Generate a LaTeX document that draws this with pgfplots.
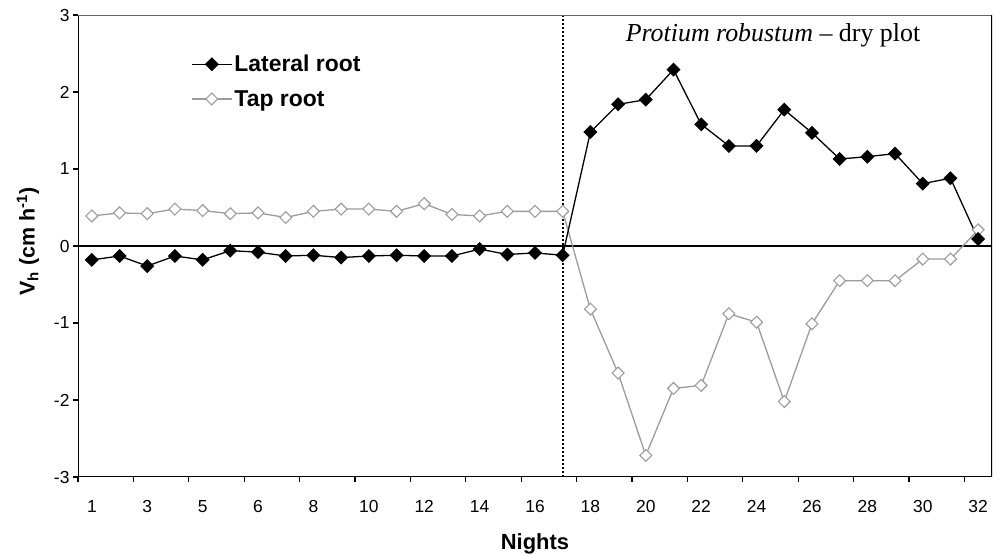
\documentclass[border=0pt]{standalone}
\usepackage{fontspec}
\setmainfont{Liberation Sans}
\newfontfamily\titlefont{Liberation Serif}
\usepackage{pgfplots}
\usepackage{pgfplotstable}
\pgfplotsset{compat=1.18}

\definecolor{tapgray}{HTML}{9C9C9C}

% Night index (category position), lateral and tap root heat velocity
\pgfplotstableread{
k  lateral  tap
0  -0.18   0.39
1  -0.13   0.43
2  -0.26   0.42
3  -0.13   0.48
4  -0.18   0.46
5  -0.06   0.42
6  -0.08   0.43
7  -0.13   0.37
8  -0.12   0.45
9  -0.15   0.48
10 -0.13   0.48
11 -0.12   0.45
12 -0.13   0.55
13 -0.13   0.41
14 -0.04   0.39
15 -0.11   0.45
16 -0.09   0.45
17 -0.12   0.45
18  1.48  -0.82
19  1.84  -1.65
20  1.90  -2.72
21  2.29  -1.85
22  1.58  -1.81
23  1.30  -0.88
24  1.30  -0.99
25  1.77  -2.02
26  1.47  -1.01
27  1.13  -0.45
28  1.16  -0.45
29  1.20  -0.45
30  0.81  -0.17
31  0.88  -0.17
32  0.09   0.21
}\nightdata

\begin{document}
\begin{tikzpicture}
\useasboundingbox (0,0) rectangle (1007bp,555bp);
\begin{axis}[
  at={(78bp,78bp)}, anchor=south west,
  scale only axis, width=914bp, height=462bp,
  xmin=-0.5, xmax=32.5, ymin=-3, ymax=3,
  axis line style={draw=none},
  xtick pos=bottom, ytick pos=left,
  tick align=outside, major tick length=5bp,
  tick style={black, line width=1.2bp},
  % tick marks between every second night
  xtick={-0.5,1.5,...,31.5},
  xticklabels={},
  % labels centred on the nights
  extra x ticks={0,2,...,32},
  extra x tick labels={1,3,5,6,8,10,12,14,16,18,20,22,24,26,28,30,32},
  extra x tick style={major tick length=0pt},
  x tick label style={anchor=base, yshift=-35.5bp},
  ytick={-3,-2,...,3},
  yticklabels={-3,-2,-1,0,1,2,3},
  y tick label style={anchor=east},
  ticklabel style={font=\fontsize{17.5}{20}\selectfont},
  xlabel={Nights},
  xlabel style={at={(axis description cs:0.5,0)}, anchor=base, yshift=-72bp,
    font=\fontsize{22}{26}\selectfont\bfseries},
  ylabel={V\textsubscript{h} (cm h\textsuperscript{-1})},
  ylabel style={at={([xshift=-50bp, yshift=4.5bp]axis description cs:0,0.5)},
    anchor=center, font=\fontsize{21.5}{26}\selectfont\bfseries},
  legend style={draw=none, fill=none, at={(axis description cs:0.1236,1)},
    anchor=north west, yshift=-38bp, inner sep=0pt, row sep=13bp,
    font=\fontsize{23}{27}\selectfont\bfseries, cells={anchor=west}},
  legend image code/.code={\draw[mark repeat=2, mark phase=2]
    plot coordinates {(0bp,0bp) (20bp,0bp) (40bp,0bp)};},
  reverse legend,
]
% zero line and the dotted divider
\addplot[black, line width=1.2bp, forget plot] coordinates {(-0.5,0) (32.5,0)};
\addplot[black, line width=2bp, dash pattern=on 2bp off 2bp, forget plot]
  coordinates {(17,-3) (17,3)};

\addplot[tapgray, line width=1.3bp, mark=square*, mark size=4.2bp,
  mark options={rotate=45, fill=white, draw=tapgray, line width=1.1bp, solid}]
  table[x=k, y=tap] {\nightdata};
\addlegendentry{Tap root}

\addplot[black, line width=1.3bp, mark=square*, mark size=4.3bp,
  mark options={rotate=45, fill=black, solid}]
  table[x=k, y=lateral] {\nightdata};
\addlegendentry{Lateral root}

% frame
\draw[line width=1.3bp] (rel axis cs:0,0) -- (rel axis cs:0,1);
\draw[line width=1.3bp] (rel axis cs:0,0) -- (rel axis cs:1,0);
\draw[line width=1.2bp, black!60] (rel axis cs:0,1) -- (rel axis cs:1,1);
\draw[line width=2.6bp] (rel axis cs:1,0) -- (rel axis cs:1,1);

\node[anchor=base, font=\titlefont\fontsize{26}{30}\selectfont]
  at (rel axis cs:0.7604,1) [yshift=-26.7bp] {\textit{Protium robustum} – dry plot};
\end{axis}
\end{tikzpicture}
\end{document}
